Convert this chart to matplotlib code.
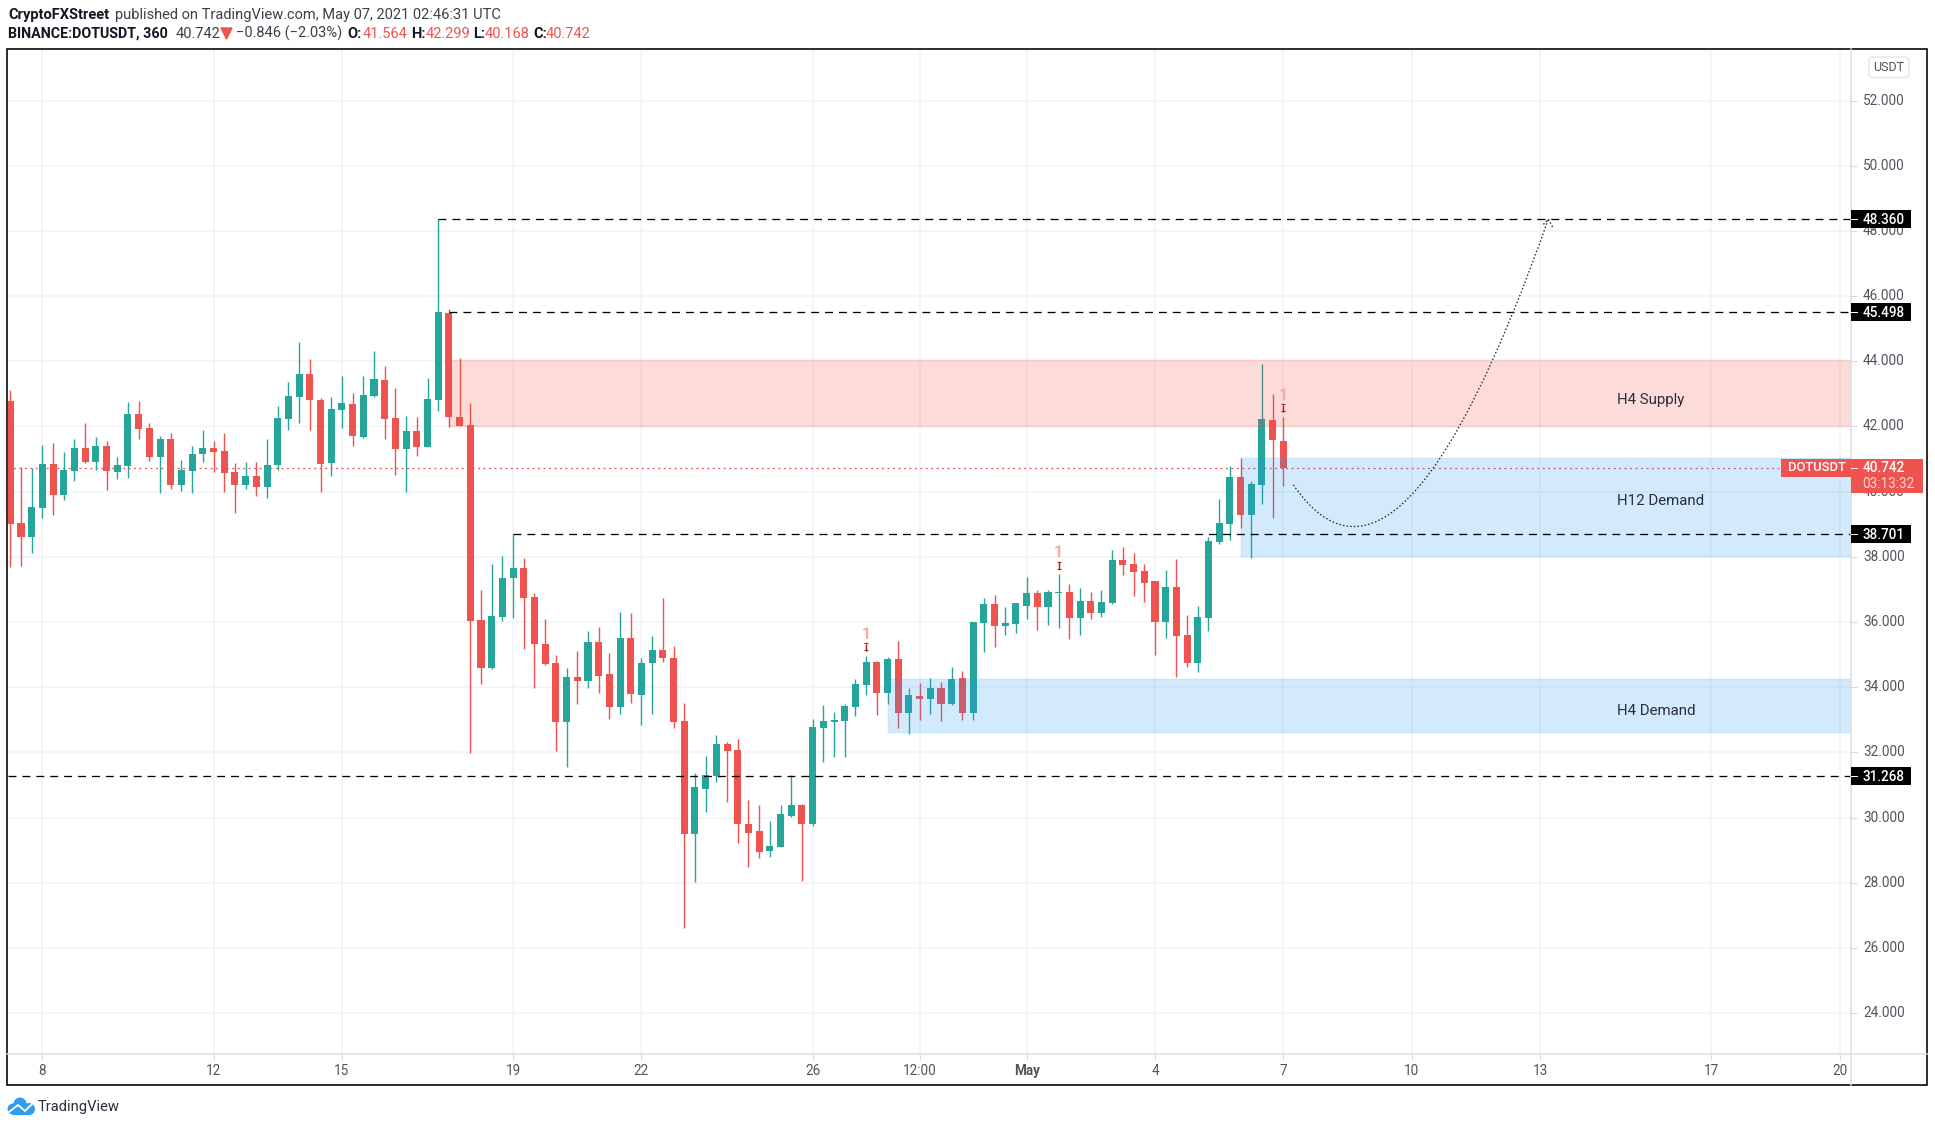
import matplotlib
matplotlib.use('Agg')
import matplotlib.pyplot as plt
from matplotlib.patches import Rectangle, PathPatch, FancyBboxPatch, Circle
from matplotlib.colors import to_rgba
from matplotlib.path import Path
from matplotlib.transforms import offset_copy

plt.rcParams['font.family'] = ['Roboto', 'DejaVu Sans']

# Datos de las velas (6h DOTUSDT)
opens = [42.78, 39.04, 38.61, 39.50, 40.85, 39.90, 40.63, 41.34, 40.91, 41.40,
         40.60, 40.79, 42.38, 41.95, 41.06, 41.62, 40.20, 40.63, 41.16, 41.34,
         41.25, 40.60, 40.20, 40.48, 40.14, 40.82, 42.23, 42.90, 43.61, 42.81,
         40.88, 42.51, 42.69, 41.68, 42.94, 43.43, 42.26, 41.31, 41.86, 41.37,
         42.81, 45.48, 42.30, 42.06, 36.05, 34.58, 36.17, 37.34, 37.65, 36.78,
         35.32, 34.74, 32.92, 34.30, 34.18, 35.40, 34.40, 33.38, 35.50, 33.75,
         34.76, 35.13, 34.91, 32.97, 29.49, 30.87, 31.27, 32.26, 32.07, 29.80,
         29.58, 28.97, 29.09, 30.04, 30.38, 29.80, 32.75, 32.94, 32.97, 33.40,
         34.07, 34.78, 33.83, 34.87, 33.21, 33.74, 33.64, 33.98, 33.49, 34.29,
         33.21, 35.98, 36.54, 35.89, 35.95, 36.48, 36.88, 36.45, 36.89, 36.91,
         36.14, 36.66, 36.29, 36.60, 37.89, 37.77, 37.58, 37.25, 35.99, 37.09,
         35.59, 34.76, 36.14, 38.46, 39.01, 40.45, 39.30, 40.20, 42.20, 41.564]
highs = [43.12, 40.75, 40.73, 41.43, 41.49, 41.22, 41.62, 42.11, 41.68, 41.55,
         41.06, 42.75, 42.78, 42.11, 41.71, 41.80, 40.97, 41.40, 41.89, 41.55,
         41.80, 40.88, 40.91, 40.91, 41.62, 42.63, 43.36, 44.59, 44.07, 42.87,
         42.90, 43.55, 43.03, 43.55, 44.32, 43.86, 43.18, 42.32, 42.29, 43.49,
         48.36, 45.59, 44.09, 42.71, 36.97, 37.77, 38.04, 38.71, 37.98, 36.88,
         36.08, 34.98, 34.58, 35.10, 35.74, 35.86, 35.06, 36.32, 36.27, 34.91,
         35.56, 36.75, 35.28, 33.52, 31.37, 31.89, 32.54, 32.32, 32.41, 30.54,
         30.38, 29.89, 30.38, 31.30, 30.41, 33.03, 33.46, 33.24, 33.49, 34.26,
         34.97, 34.81, 34.94, 35.43, 33.98, 34.14, 34.29, 34.17, 34.63, 34.50,
         36.01, 36.75, 36.84, 36.47, 36.60, 37.37, 36.97, 36.97, 37.46, 37.18,
         37.06, 36.91, 36.97, 38.20, 38.29, 38.13, 37.77, 37.25, 37.61, 37.92,
         36.23, 36.48, 38.60, 39.78, 40.79, 41.03, 40.33, 43.92, 42.99, 42.299]
lows = [37.69, 37.72, 38.12, 39.19, 39.29, 39.75, 40.33, 40.88, 40.67, 40.05,
        40.39, 40.42, 41.62, 40.94, 39.96, 40.08, 40.02, 39.96, 40.91, 40.60,
        39.99, 39.35, 40.08, 39.87, 39.80, 40.67, 41.89, 42.11, 41.89, 39.99,
        40.48, 41.95, 41.40, 41.65, 42.90, 41.62, 40.51, 39.99, 41.09, 41.37,
        42.48, 41.98, 42.00, 31.99, 34.09, 34.55, 36.02, 36.14, 35.16, 33.97,
        34.67, 32.06, 31.56, 33.48, 33.99, 33.81, 33.02, 33.17, 33.53, 32.83,
        33.17, 34.79, 32.76, 26.60, 28.04, 30.17, 31.09, 30.47, 29.21, 28.50,
        28.75, 28.78, 29.09, 30.01, 28.07, 29.74, 31.70, 31.86, 31.86, 33.12,
        33.77, 33.15, 33.49, 32.75, 32.57, 33.00, 33.18, 32.97, 33.46, 33.00,
        33.00, 35.09, 35.24, 35.61, 35.67, 36.08, 35.77, 35.90, 35.83, 35.47,
        35.59, 36.08, 36.17, 36.54, 37.43, 36.79, 36.63, 34.98, 35.50, 34.33,
        34.61, 34.48, 35.74, 38.40, 38.52, 38.89, 37.97, 39.62, 39.19, 40.168]
closes = [39.02, 38.61, 39.53, 40.85, 39.90, 40.67, 41.34, 40.91, 41.40, 40.63,
          40.82, 42.38, 41.92, 41.06, 41.62, 40.20, 40.67, 41.16, 41.34, 41.22,
          40.57, 40.20, 40.48, 40.14, 40.82, 42.26, 42.94, 43.61, 42.81, 40.85,
          42.54, 42.72, 41.71, 42.97, 43.46, 42.23, 41.31, 41.86, 41.37, 42.84,
          45.498, 42.28, 42.03, 36.02, 34.58, 36.20, 37.36, 37.65, 36.75, 35.32,
          34.70, 32.95, 34.30, 34.18, 35.40, 34.36, 33.38, 35.50, 33.78, 34.76,
          35.13, 34.89, 32.92, 29.49, 30.94, 31.30, 32.26, 32.04, 29.80, 29.52,
          28.94, 29.12, 30.10, 30.38, 29.80, 32.78, 32.97, 33.00, 33.43, 34.10,
          34.78, 33.83, 34.87, 33.21, 33.77, 33.64, 33.98, 33.49, 34.26, 33.21,
          36.01, 36.54, 35.89, 35.98, 36.57, 36.88, 36.45, 36.91, 36.91, 36.14,
          36.66, 36.29, 36.63, 37.89, 37.74, 37.55, 37.21, 35.99, 37.09, 35.56,
          34.76, 36.17, 38.49, 39.04, 40.45, 39.30, 40.24, 42.23, 41.59, 40.742]

# Eje X: posicion de la vela de cada etiqueta
x_ticks = [3, 19, 31, 47, 59, 75, 85, 95, 107, 119, 131, 143, 159, 171]
x_labels = ['8', '12', '15', '19', '22', '26', '12:00', 'May', '4', '7', '10', '13', '17', '20']
y_ticks = [24, 26, 28, 30, 32, 34, 36, 38, 40, 42, 44, 46, 48, 50, 52]

# Niveles y zonas
levels = [48.360, 45.498, 38.701, 31.268]
level_starts = [40, 41, 47, -0.26]
last_price = 40.742
zone_names = ['H4 Supply', 'H12 Demand', 'H4 Demand']
zone_tops = [44.05, 41.02, 34.25]
zone_bottoms = [41.99, 37.99, 32.59]
zone_starts = [41, 115, 82]
zone_label_y = [42.80, 39.70, 33.26]
signal_bars = [80, 98, 119]

# Curva de proyeccion (inicio, control, fin) y punta de flecha
curve_x = [119.93, 129.9, 143.77]
curve_y = [40.21, 35.45, 48.36]
head_x = [143.3, 143.77, 144.25]
head_y = [48.2, 48.36, 48.07]

RED = '#ef5350'
GREEN = '#26a69a'
TXT = '#50535e'
W, H = 1935, 1127
L, R, T, B = 7.5, 1851, 49.5, 1054


def px(v):
    return v * 0.72


fig = plt.figure(figsize=(W / 100, H / 100), dpi=100, facecolor='white')
ax = fig.add_axes([L / W, (H - B) / H, (R - L) / W, (B - T) / H])
x_right = 172.06
ax.set_xlim(-0.26, x_right)
ax.set_ylim(22.75, 53.565)
for s in ax.spines.values():
    s.set_visible(False)

ax.set_xticks(x_ticks)
ax.set_xticklabels(x_labels, fontsize=px(13.5), color=TXT)
ax.get_xticklabels()[x_labels.index('May')].set_fontweight('bold')
ax.set_yticks(y_ticks)
ax.set_yticklabels(['%.3f' % v for v in y_ticks], fontsize=px(13.5), color=TXT, va='center')
ax.yaxis.tick_right()
ax.tick_params(axis='x', length=px(6), width=px(1), color='#d6d8de', pad=px(4))
ax.tick_params(axis='y', length=px(6), width=px(1), color='#d6d8de', pad=px(6))
ax.grid(True, color='#f1f2f4', lw=px(1.5))
ax.set_axisbelow(True)

# Linea del ultimo precio
ax.hlines(last_price, -0.26, 166, color=RED, lw=px(1.3), linestyles=[(0, (1.5, 2.7))], zorder=1)

# Velas
for i in range(len(opens)):
    col = GREEN if closes[i] >= opens[i] else RED
    ax.vlines(i, lows[i], highs[i], color=col, lw=px(1.4), zorder=2)
    ax.bar(i, abs(closes[i] - opens[i]), bottom=min(opens[i], closes[i]), width=0.66, color=col, lw=0, zorder=3)

# Zonas de oferta y demanda
for name, top, bot, start, lab_y in zip(zone_names, zone_tops, zone_bottoms, zone_starts, zone_label_y):
    col = '#f54b41' if 'Supply' in name else '#2196f3'
    ax.add_patch(Rectangle((start, bot), x_right - start, top - bot, facecolor=to_rgba(col, 0.2),
                           edgecolor=to_rgba(col, 0.07), lw=px(1.5), zorder=4))
    ax.annotate(name, xy=(150.2, lab_y), fontsize=px(15), color='#2a2e39', va='center', ha='left', zorder=8)

# Niveles punteados
for lev, start in zip(levels, level_starts):
    ax.hlines(lev, start, x_right, color='black', lw=px(1.3), linestyles=[(0, (6.1, 4.6))], zorder=5)

# Curva
verts = list(zip(curve_x, curve_y))
curve = PathPatch(Path(verts, [Path.MOVETO, Path.CURVE3, Path.CURVE3]), fc='none', ec='#2a2e39',
                  lw=px(1.3), linestyle=(0, (1.2, 1.6)), zorder=6)
ax.add_patch(curve)
ax.plot(head_x, head_y, color='#2a2e39', lw=px(1.3), ls=(0, (1.2, 1.6)), zorder=6)

# Senales "1" sobre las velas
for i in signal_bars:
    tr_mid = offset_copy(ax.transData, fig=fig, x=0, y=9, units='dots')
    ax.plot([i], [highs[i]], transform=tr_mid, marker='|', ms=px(7), mew=px(1.4), color='#b71c1c', zorder=7)
    for dy in (5.5, 12.5):
        tr_cap = offset_copy(ax.transData, fig=fig, x=0, y=dy, units='dots')
        ax.plot([i], [highs[i]], transform=tr_cap, marker='_', ms=px(4.5), mew=px(1.2), color='#b71c1c', zorder=7)
    tr_txt = offset_copy(ax.transData, fig=fig, x=0, y=21.5, units='dots')
    ax.text(i, highs[i], '1', transform=tr_txt, fontsize=px(16), fontweight='bold', color='#f9a9a9',
            ha='center', va='center', zorder=7)

# Capa en pixeles para el marco, etiquetas y cabecera
ov = fig.add_axes([0, 0, 1, 1], facecolor='none')
ov.set_xlim(0, W)
ov.set_ylim(H, 0)
ov.axis('off')

ov.add_patch(Rectangle((7.3, 49.3), 1927 - 7.3, 1085 - 49.3, fc='none', ec='black', lw=px(1.6)))
ov.plot([R, R], [49.3, 1085], color='#dcdde1', lw=px(1.5), zorder=1)
ov.plot([7.3, 1927], [B, B], color='#dcdde1', lw=px(1.5), zorder=1)


def y_px(v):
    return 361.3 + (44 - v) * 32.6


# Etiquetas negras de los niveles
for lev in levels:
    yc = y_px(lev)
    ov.add_patch(Rectangle((R, yc - 9), 59.5, 18, fc='black', ec='none', zorder=3))
    ov.plot([R, R + 6], [yc, yc], color='white', lw=px(1), zorder=4)
    ov.text(1862.7, yc + 0.5, '%.3f' % lev, color='white', fontsize=px(13.5), fontweight='medium', va='center', ha='left', zorder=4)

# Etiqueta del precio actual
yc = y_px(last_price)
ov.add_patch(Rectangle((1781, yc - 9), 142, 18.5, fc=RED, ec='none', zorder=3))
ov.add_patch(Rectangle((R, yc), 72, 25, fc=RED, ec='none', zorder=3))
ov.plot([R, R + 6], [yc, yc], color='white', lw=px(1), zorder=4)
ov.text(1787.7, yc, 'DOTUSDT', color='white', fontsize=px(13), fontweight='medium', va='center', zorder=4)
ov.text(1862.7, yc, '40.742', color='white', fontsize=px(13.5), fontweight='medium', va='center', zorder=4)
ov.text(1862.7, yc + 16, '03:13:32', color='#fbd5d5', fontsize=px(13.5), va='center', zorder=4)

# Caja USDT
ov.add_patch(FancyBboxPatch((1872, 60), 34, 14.5, boxstyle='round,pad=3,rounding_size=4', fc='white', ec='#e0e3eb', lw=px(1.3), zorder=3))
ov.text(1889, 67.5, 'USDT', color=TXT, fontsize=px(12.5), ha='center', va='center', zorder=4)

# Cabecera
HEAD = '#131722'
FS = px(14.65)
ov.text(8, 15, 'CryptoFXStreet', color=HEAD, fontsize=FS, fontweight='bold', va='center')
ov.text(115, 15, 'published on TradingView.com, May 07, 2021 02:46:31 UTC', color='#3c4048', fontsize=FS, va='center')
ov.text(8, 33.5, 'BINANCE:DOTUSDT, 360', color=HEAD, fontsize=px(14.3), fontweight='bold', va='center')
ov.text(176, 33.5, '40.742', color='#3c4048', fontsize=FS, va='center')
ov.fill([221, 232, 226.5], [28, 28, 39], color=RED)
ov.text(236, 33.5, '\u22120.846 (\u22122.03%)', color='#3c4048', fontsize=FS, va='center')
ohlc_heads = ['O:', 'H:', 'L:', 'C:']
ohlc_vals = ['41.564', '42.299', '40.168', '40.742']
ohlc_head_x = [347, 411, 473.5, 533.6]
ohlc_val_x = [362.5, 426, 485, 546]
for h, v, hx, vx in zip(ohlc_heads, ohlc_vals, ohlc_head_x, ohlc_val_x):
    ov.text(hx, 33.5, h, color=HEAD, fontsize=FS, fontweight='bold', va='center')
    ov.text(vx, 33.5, v, color=RED, fontsize=FS, va='center')

# Logo de TradingView
BLUE = '#2f9ef0'
ov.add_patch(Circle((20, 1104), 6.5, fc=BLUE, ec='none'))
ov.add_patch(Circle((13, 1109), 5.5, fc=BLUE, ec='none'))
ov.add_patch(Circle((29, 1109), 6, fc=BLUE, ec='none'))
ov.add_patch(Rectangle((12, 1106), 18, 9, fc=BLUE, ec='none'))
ov.plot([9, 18, 25, 33], [1112, 1105, 1111, 1103], color='white', lw=px(1.8))
ov.text(38, 1107, 'TradingView', color='#2a2e39', fontsize=px(14.7), va='center')

fig.savefig('out.png', dpi=100, facecolor='white')
